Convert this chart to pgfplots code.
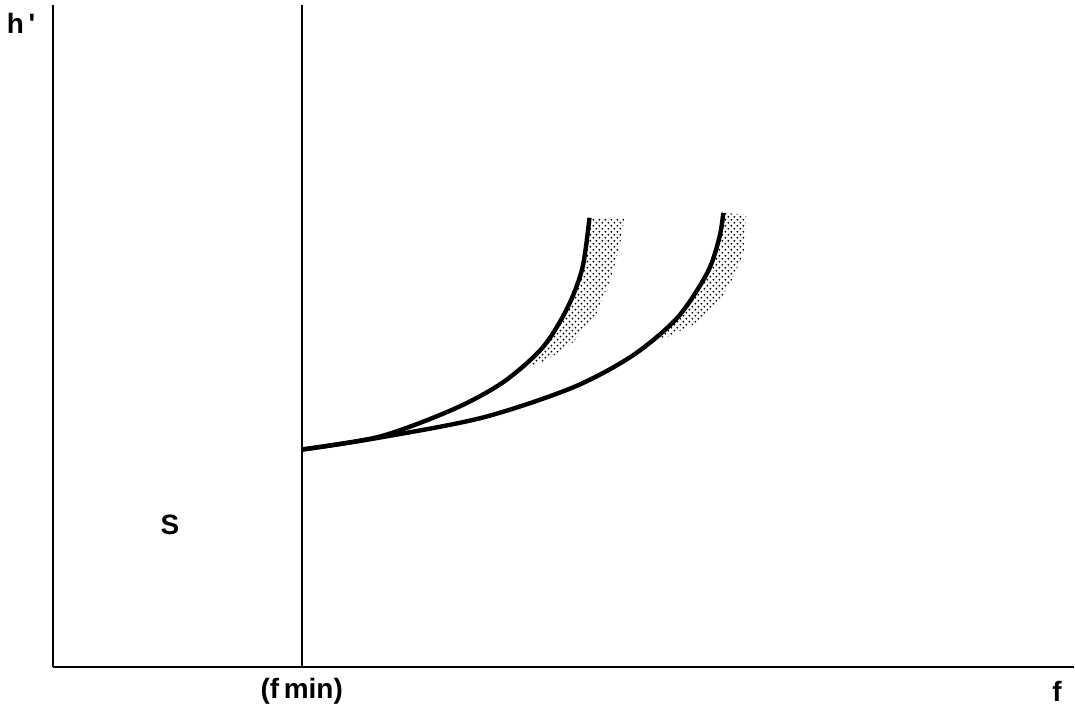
\documentclass[border=0pt]{standalone}
\usepackage{pgfplots}
\pgfplotsset{compat=1.18}
\usepackage{fontspec}
\setmainfont{Liberation Sans}
\usetikzlibrary{patterns}
\begin{document}
\begin{tikzpicture}
\begin{axis}[
  x=0.5pt, y=0.5pt,
  xmin=0, xmax=1022, ymin=0, ymax=663,
  axis lines=left,
  axis line style={-, line width=1pt},
  ticks=none,
  clip=false,
  ]
% bounding box of the whole picture
\path (axis cs:-53,-44) rectangle (axis cs:1022,668);
% stippled bands
\addplot[draw=none, pattern=crosshatch dots, pattern color=black] coordinates {
  (465,297) (490,320) (515,360) (530,400) (537,450)
  (572,450) (567,420) (558,388) (543,352) (520,325) (495,308) (465,297)};
\addplot[draw=none, pattern=crosshatch dots, pattern color=black] coordinates {
  (600,328) (625,350) (655,395) (667,430) (671,455)
  (694,453) (692,418) (682,392) (668,368) (645,345) (615,331) (600,328)};
% fmin line
\addplot[black, line width=1pt] coordinates {(249,0) (249,663)};
% traces
\addplot[black, line width=2.2pt, smooth] coordinates {
  (249,218) (327,231) (400,258) (450,285) (490,320) (515,360) (530,400) (537,450)};
\addplot[black, line width=2.2pt, smooth] coordinates {
  (249,218) (327,230) (430,250) (520,280) (580,312) (625,350) (655,395) (667,430) (671,455)};
% labels
\node[font=\fontsize{14}{16}\selectfont\bfseries] at (axis cs:-32,645) {h\,\textquotesingle};
\node[font=\fontsize{14}{16}\selectfont\bfseries] at (axis cs:117,143) {S};
\node[font=\fontsize{14}{16}\selectfont\bfseries] at (axis cs:249,-24) {(f\,min)};
\node[font=\fontsize{14}{16}\selectfont\bfseries] at (axis cs:1005,-24) {f};
\end{axis}
\end{tikzpicture}
\end{document}
